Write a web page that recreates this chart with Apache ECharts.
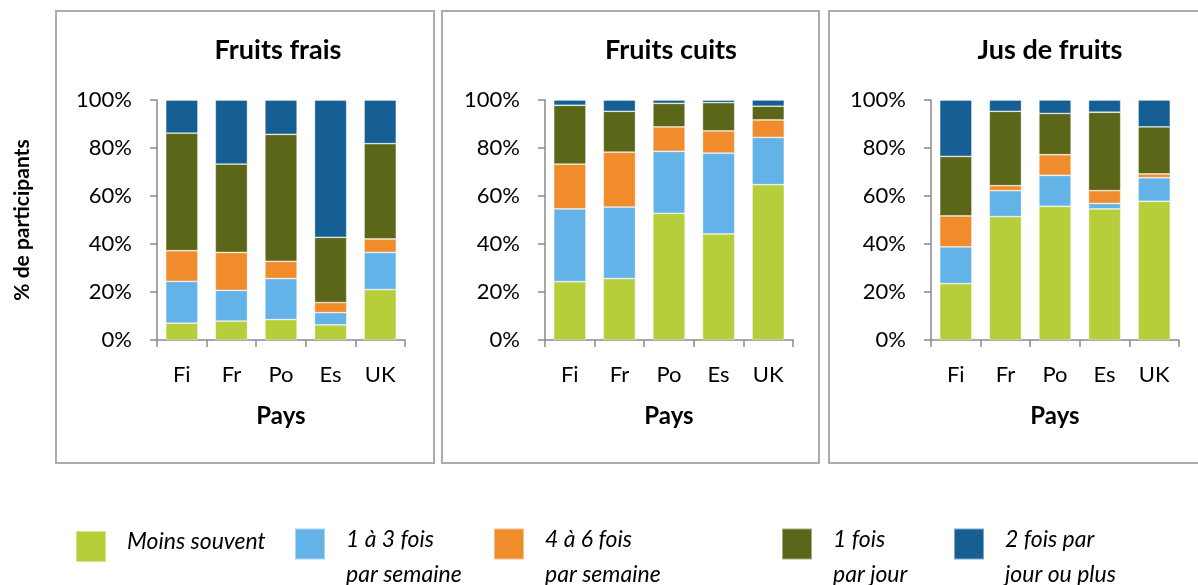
<!DOCTYPE html>
<html>
<head>
<meta charset="utf-8">
<script src="https://cdn.jsdelivr.net/npm/echarts@6/dist/echarts.min.js"></script>
<style>html,body{margin:0;padding:0;background:#fff;}#c{width:1198px;height:585px;}</style>
</head>
<body>
<div id="c"></div>
<script>
// ---- data ----
const categories = ['Fi', 'Fr', 'Po', 'Es', 'UK'];
const panelTitles = ['Fruits frais', 'Fruits cuits', 'Jus de fruits'];
const seriesNames = ['Moins souvent', '1 à 3 fois par semaine', '4 à 6 fois par semaine', '1 fois par jour', '2 fois par jour ou plus'];
const legendLines = [['Moins souvent'], ['1 à 3 fois', 'par semaine'], ['4 à 6 fois', 'par semaine'], ['1 fois', 'par jour'], ['2 fois par', 'jour ou plus']];
const yTicks = [0, 20, 40, 60, 80, 100];

// Fruits frais
const fraisMoins = [7.0, 7.9, 8.5, 6.3, 21.0];
const frais13 = [17.4, 12.8, 17.1, 5.1, 15.5];
const frais46 = [12.8, 15.8, 7.2, 4.2, 5.6];
const frais1j = [49.0, 36.8, 52.9, 27.2, 39.7];
const frais2j = [13.8, 26.7, 14.3, 57.2, 18.2];
// Fruits cuits
const cuitsMoins = [24.3, 25.6, 52.8, 44.2, 64.7];
const cuits13 = [30.3, 29.8, 25.8, 33.7, 19.7];
const cuits46 = [18.7, 22.9, 10.2, 9.2, 7.3];
const cuits1j = [24.5, 17.0, 9.8, 11.8, 5.7];
const cuits2j = [2.2, 4.7, 1.4, 1.1, 2.6];
// Jus de fruits
const jusMoins = [23.5, 51.4, 55.7, 54.6, 57.8];
const jus13 = [15.3, 10.8, 12.9, 2.3, 9.8];
const jus46 = [12.9, 2.1, 8.6, 5.3, 1.6];
const jus1j = [24.8, 31.0, 17.2, 32.7, 19.6];
const jus2j = [23.5, 4.7, 5.6, 5.1, 11.2];

const panelData = [
  [fraisMoins, frais13, frais46, frais1j, frais2j],
  [cuitsMoins, cuits13, cuits46, cuits1j, cuits2j],
  [jusMoins, jus13, jus46, jus1j, jus2j]
];

// ---- style ----
const colors = ['#B5CE3A', '#63B3E8', '#F08C2B', '#5B6619', '#165F94'];
const FONT = 'Lato, "Open Sans", sans-serif';
const axisColor = '#8a8a8a';
const gridLefts = [157, 545, 931];
const gridWidth = 248;
const titleX = [278, 671, 1050];
const frames = [[56, 434], [442, 819], [829, 1204]];
const legendX = [75, 294, 493, 781, 953];

const chart = echarts.init(document.getElementById('c'));

const grids = gridLefts.map(l => ({ left: l, top: 100, width: gridWidth, height: 240, containLabel: false }));

const xAxes = gridLefts.map((l, i) => ({
  type: 'category', gridIndex: i, data: categories,
  name: 'Pays', nameLocation: 'middle', nameGap: 64,
  nameTextStyle: { fontFamily: FONT, fontWeight: 'bold', fontSize: 24, color: '#000' },
  axisLine: { lineStyle: { color: axisColor, width: 1.5 } },
  axisTick: { show: true, length: 7, lineStyle: { color: axisColor, width: 1.5 } },
  axisLabel: { margin: 24, fontFamily: FONT, fontSize: 22, color: '#000' },
  splitLine: { show: false }
}));

const yAxes = gridLefts.map((l, i) => ({
  type: 'value', gridIndex: i, min: yTicks[0], max: yTicks[yTicks.length - 1], interval: 20,
  name: i === 0 ? '% de participants' : '', nameLocation: 'middle', nameGap: 124, nameRotate: 90,
  nameTextStyle: { fontFamily: FONT, fontWeight: 'bold', fontSize: 21, color: '#000' },
  axisLine: { show: true, lineStyle: { color: axisColor, width: 1.5 } },
  axisTick: { show: true, length: 7, lineStyle: { color: axisColor, width: 1.5 } },
  axisLabel: { margin: 25, fontFamily: FONT, fontSize: 22, color: '#000', formatter: '{value}%' },
  splitLine: { show: false }
}));

const series = [];
panelData.forEach((arrs, p) => {
  arrs.forEach((vals, k) => {
    series.push({
      type: 'bar', name: seriesNames[k], xAxisIndex: p, yAxisIndex: p, stack: 'p' + p,
      data: vals, barCategoryGap: '35%',
      itemStyle: { color: colors[k], borderColor: 'rgba(255,255,255,0.45)', borderWidth: 0.8 },
      emphasis: { disabled: true }
    });
  });
});

const titles = panelTitles.map((t, i) => ({
  text: t, left: titleX[i], top: 50, textAlign: 'center', textVerticalAlign: 'middle', padding: 0,
  textStyle: { fontFamily: FONT, fontWeight: 'bold', fontSize: 27, color: '#000' }
}));

const legendRich = {
  gapTop: { fontSize: 10, lineHeight: 26 },
  gapBot: { fontSize: 8, lineHeight: 9 },
  t: { fontFamily: FONT, fontStyle: 'italic', fontSize: 23, lineHeight: 35, color: '#000' }
};
const legends = seriesNames.map((n, i) => {
  const lines = legendLines[i];
  const twoLine = lines.length > 1;
  const txt = twoLine
    ? '{gapTop| }\n' + lines.map(s => '{t|' + s + '}').join('\n')
    : '{t|' + lines[0] + '}\n{gapBot| }';
  return {
    data: [n], left: legendX[i], top: twoLine ? 504 : 530, padding: 0,
    orient: 'horizontal', itemWidth: 30, itemHeight: 31, icon: 'rect',
    formatter: () => txt,
    selectedMode: false,
    textStyle: { fontFamily: FONT, fontStyle: 'italic', fontSize: 23, color: '#000',
                 padding: [0, 0, 0, 16], rich: legendRich }
  };
});

const graphics = frames.map(f => ({
  type: 'rect', shape: { x: f[0], y: 11, width: f[1] - f[0], height: 452 },
  style: { fill: 'none', stroke: '#ababab', lineWidth: 2 }, silent: true, z: -1
}));

chart.setOption({
  animation: false,
  backgroundColor: '#fff',
  title: titles,
  legend: legends,
  grid: grids,
  xAxis: xAxes,
  yAxis: yAxes,
  series: series,
  graphic: graphics
});
</script>
</body>
</html>
